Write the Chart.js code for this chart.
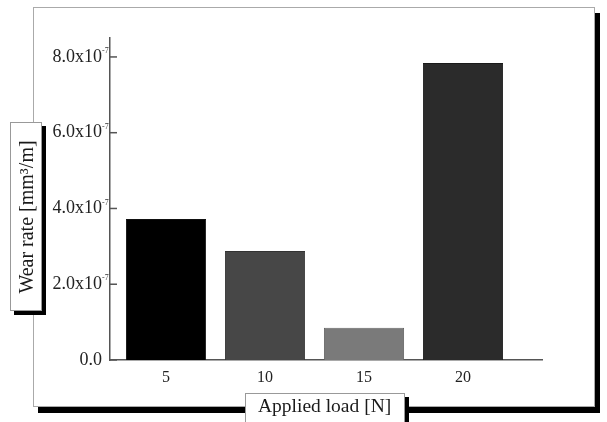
<!DOCTYPE html>
<html>
<head>
<meta charset="utf-8">
<script src="https://cdn.jsdelivr.net/npm/chart.js@4"></script>
<style>
  html, body { margin: 0; padding: 0; background: #fff; }
  #wrap { position: relative; width: 607px; height: 422px; overflow: hidden; font-family: 'Liberation Serif', 'Times New Roman', serif; }
  #frame { position: absolute; left: 33px; top: 7px; width: 560px; height: 398px; border: 1px solid #aaa; background: #fff; box-shadow: 5px 6px 0 #000; }
  #chart { position: absolute; left: 0; top: 0; }
  .tbox { position: absolute; background: #fff; border: 1px solid #999; color: #1a1a1a; font-size: 19.5px; white-space: nowrap; box-shadow: 4px 4px 0 #000; }
  #ytitle { left: 10px; top: 122px; width: 30px; height: 187px; font-size: 20px; }
  #ytitle span { position: absolute; left: 50%; top: 50%; transform: translate(-50%, -50%) rotate(-90deg); }
  #xtitle { left: 245px; top: 393px; width: 158px; height: 40px; }
  #xtitle span { position: absolute; left: 12px; top: 1px; }
</style>
</head>
<body>
<div id="wrap">
  <div id="frame"></div>
  <canvas id="chart" width="607" height="422"></canvas>
  <div class="tbox" id="ytitle"><span>Wear rate [mm³/m]</span></div>
  <div class="tbox" id="xtitle"><span>Applied load [N]</span></div>
</div>
<script>
// data
const loads = [5, 10, 15, 20];
const wearRates = [3.72e-7, 2.88e-7, 0.85e-7, 7.84e-7];
const yTicks = [0, 2e-7, 4e-7, 6e-7, 8e-7];
const yTickLabels = ['0.0', '2.0x10', '4.0x10', '6.0x10', '8.0x10'];
const yTickExps = ['', '-7', '-7', '-7', '-7'];
const barColors = ['#000000', '#474747', '#7a7a7a', '#2b2b2b'];
const barEdges = ['#111111', '#333333', '#666666', '#1a1a1a'];

// short tick marks inside the plot + small exponents after the y labels
const innerTicks = {
  id: 'innerTicks',
  afterDraw(chart) {
    const ctx = chart.ctx;
    const y = chart.scales.y;
    ctx.save();
    ctx.strokeStyle = '#555';
    ctx.lineWidth = 1.5;
    y.ticks.forEach((t, i) => {
      const py = y.getPixelForValue(t.value);
      ctx.beginPath();
      ctx.moveTo(y.right, py);
      ctx.lineTo(y.right + 7, py);
      ctx.stroke();
      if (yTickExps[i]) {
        ctx.fillStyle = '#333';
        ctx.font = '8px "Liberation Serif"';
        ctx.textAlign = 'left';
        ctx.textBaseline = 'middle';
        ctx.fillText(yTickExps[i], y.right - 8, py - 6);
      }
    });
    ctx.restore();
  }
};

const pts = loads.map((l, i) => ({ x: l, y: wearRates[i] }));

new Chart(document.getElementById('chart'), {
  type: 'bar',
  data: {
    datasets: [{
      data: pts,
      backgroundColor: barColors,
      borderColor: barEdges,
      borderWidth: 1,
      barPercentage: 0.81,
      categoryPercentage: 1.0
    }]
  },
  options: {
    responsive: false,
    animation: false,
    layout: { padding: { left: 0, top: 38, right: 65, bottom: 32 } },
    plugins: { legend: { display: false }, tooltip: { enabled: false } },
    scales: {
      x: {
        type: 'linear',
        offset: false,
        min: 2.17,
        max: 23.99,
        afterBuildTicks: s => { s.ticks = loads.map(v => ({ value: v })); },
        afterFit: s => { s.height = 30; },
        grid: { display: false, drawTicks: false },
        border: { display: true, color: '#555', width: 1.5 },
        ticks: { color: '#222', font: { family: 'Liberation Serif', size: 16 }, padding: 8 }
      },
      y: {
        min: 0,
        max: 8.5e-7,
        afterBuildTicks: s => { s.ticks = yTicks.map(v => ({ value: v })); },
        afterFit: s => { s.width = 110; },
        grid: { display: false, drawTicks: false },
        border: { display: true, color: '#555', width: 1.5 },
        ticks: {
          color: '#222',
          font: { family: 'Liberation Serif', size: 18 },
          padding: 8,
          callback: (v, i) => yTickLabels[i]
        }
      }
    }
  },
  plugins: [innerTicks]
});
</script>
</body>
</html>
